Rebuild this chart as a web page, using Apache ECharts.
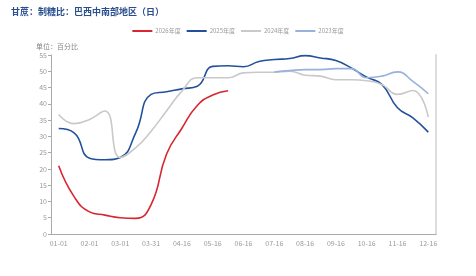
<!DOCTYPE html>
<html>
<head>
<meta charset="utf-8">
<script src="https://cdn.jsdelivr.net/npm/echarts@6/dist/echarts.min.js"></script>
<style>
  html, body { margin: 0; padding: 0; background: #fff; }
  #chart { width: 476px; height: 276px; }
</style>
</head>
<body>
<div id="chart"></div>
<script>
// 半月度日期
const categories = ['01-01', '01-16', '02-01', '02-16', '03-01', '03-16', '03-31', '04-01', '04-16', '05-01',
  '05-16', '06-01', '06-16', '07-01', '07-16', '08-01', '08-16', '09-01', '09-16', '10-01',
  '10-16', '11-01', '11-16', '12-01', '12-16']
const yTicks = { min: 0, max: 55, interval: 5 }

const data2026 = [21, 11.5, 6.8, 5.8, 5.0, 4.8, 9, 24.5, 32.5, 39.5, 42.7, 44]
const data2025 = [32.4, 31.1, 23.3, 22.8, 23.5, 31.1, 42.9, 43.7, 44.6, 45.4, 51.5, 51.7, 51.4,
  53, 53.6, 53.9, 54.8, 54.1, 53.3, 51, 48.2, 45.9, 38.8, 35.7, 31.3]
const data2024 = [36.7, 33.9, 35.2, 37.8, 23.5, 26.5, 31.6, 37.8, 43.9, 48, 48, 48, 49.5,
  49.7, 49.7, 50, 48.8, 48.5, 47.4, 47.4, 47.1, 45.9, 42.9, 44.1, 35.9]
const data2023 = [null, null, null, null, null, null, null, null, null, null, null, null, null, null,
  49.8, 50.2, 50.5, 50.5, 50.8, 50.8, 48, 48.5, 49.8, 46.9, 43.1]

const chart = echarts.init(document.getElementById('chart'))
const font = '"Noto Sans CJK SC", "Noto Sans", sans-serif'

function line(name, data, color, width) {
  return {
    name: name,
    type: 'line',
    data: data,
    smooth: true,
    symbol: 'none',
    connectNulls: false,
    lineStyle: { color: color, width: width },
    itemStyle: { color: color }
  }
}

chart.setOption({
  animation: false,
  textStyle: { fontFamily: font },
  title: [{
    text: '甘蔗：制糖比：巴西中南部地区（日）',
    left: 6,
    top: 2,
    textStyle: { fontSize: 9, fontWeight: 'bold', color: '#2a4f8f', fontFamily: font }
  }, {
    text: '单位：百分比',
    left: 31,
    top: 38,
    textStyle: { fontSize: 7, fontWeight: 'normal', color: '#888', fontFamily: font }
  }],
  legend: {
    top: 23,
    left: 'center',
    itemWidth: 20,
    itemHeight: 2,
    itemGap: 6,
    icon: 'rect',
    textStyle: { fontSize: 6, color: '#999', padding: [0, 0, 0, -2] },
    data: ['2026年度', '2025年度', '2024年度', '2023年度']
  },
  grid: { left: 51, right: 40, top: 55, bottom: 42 },
  xAxis: {
    type: 'category',
    data: categories,
    boundaryGap: true,
    axisLine: { lineStyle: { color: '#aaa' } },
    axisTick: { interval: 1, length: 3, lineStyle: { color: '#aaa' } },
    axisLabel: { interval: 1, fontSize: 7, color: '#999', margin: 6 }
  },
  yAxis: [{
    type: 'value',
    min: yTicks.min,
    max: yTicks.max,
    interval: yTicks.interval,
    axisLine: { show: true, lineStyle: { color: '#aaa' } },
    axisTick: { show: true, length: 3, lineStyle: { color: '#aaa' } },
    axisLabel: { fontSize: 7, color: '#999', margin: 4 },
    splitLine: { show: false }
  }, {
    type: 'value',
    min: yTicks.min,
    max: yTicks.max,
    interval: yTicks.interval,
    position: 'right',
    axisLine: { show: true, lineStyle: { color: '#ddd', width: 2 } },
    axisTick: { show: false },
    axisLabel: { show: false },
    splitLine: { show: false }
  }],
  series: [
    line('2026年度', data2026, '#d7262f', 1.6),
    line('2025年度', data2025, '#23509e', 1.6),
    line('2024年度', data2024, '#c9c9c9', 1.6),
    line('2023年度', data2023, '#98b2dc', 1.6)
  ]
})
</script>
</body>
</html>
